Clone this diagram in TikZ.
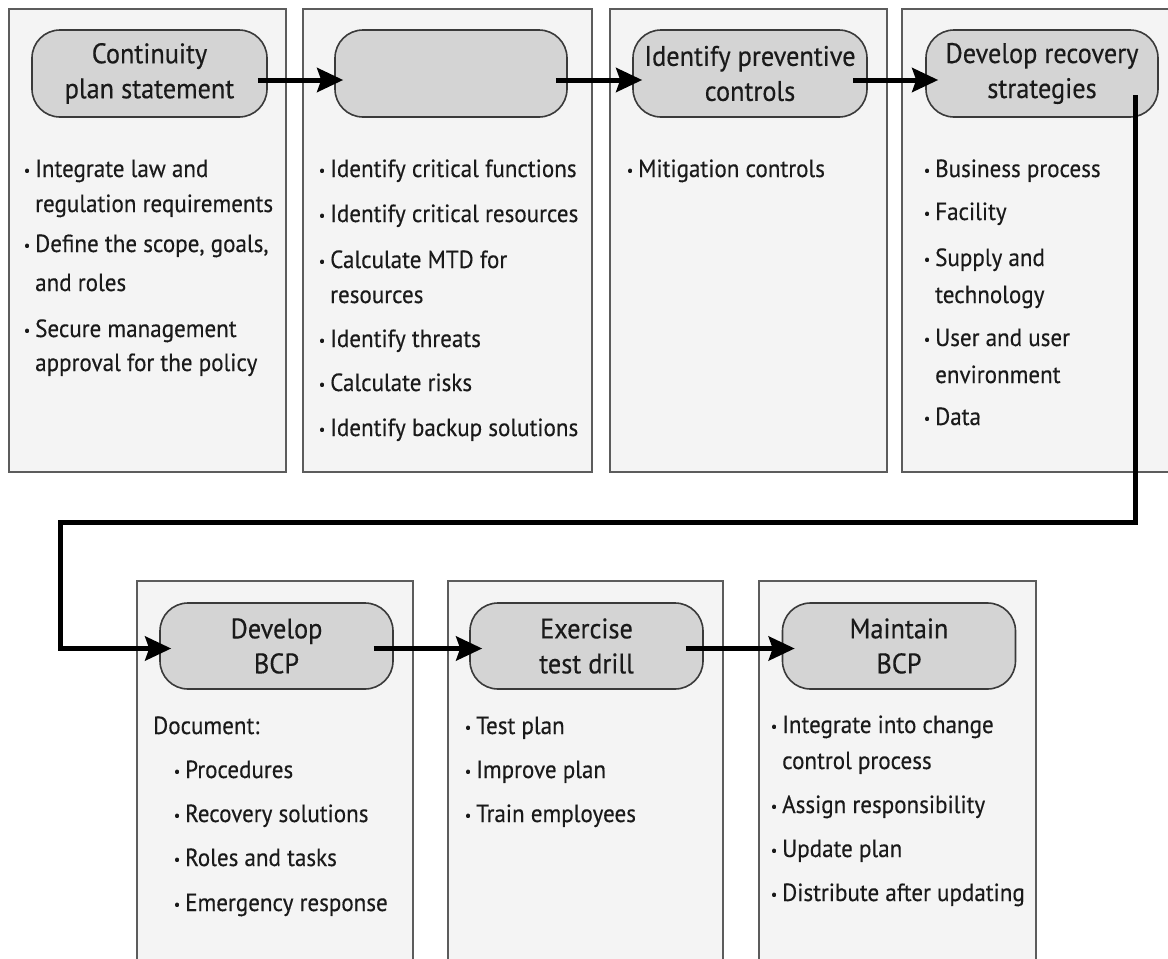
\documentclass[tikz,border=0pt]{standalone}
\usepackage{fontspec}
\setmainfont{PT Sans}
\newfontfamily\labelfont{PT Sans}[FakeBold=0.35, FakeStretch=0.93]
\usetikzlibrary{arrows.meta,calc}

\definecolor{panelfill}{HTML}{F4F4F4}
\definecolor{panelline}{HTML}{5C5C5C}
\definecolor{stepfill}{HTML}{D4D4D4}
\definecolor{stepline}{HTML}{3A3A3A}
\definecolor{ink}{HTML}{1A1A1A}

% small bullet hanging to the left of an item's first line
\newcommand{\bul}{\llap{\raisebox{1.5pt}{\fontsize{15}{15}\selectfont\textbullet}\hspace{5pt}}}

\tikzset{
  panel/.style={draw=panelline, fill=panelfill, line width=1.4pt, inner sep=0pt},
  stepbox/.style={draw=stepline, fill=stepfill, line width=1.6pt, rounded corners=28pt,
    minimum width=233pt, minimum height=87pt, align=center, inner sep=0pt,
    text=ink, font=\labelfont\fontsize{28.3}{35}\selectfont},
  bodytext/.style={anchor=base west, inner sep=0pt, text=ink,
    font=\labelfont\fontsize{24.8}{28}\selectfont},
  flow/.style={line width=5pt, black, line join=miter,
    -{Stealth[length=26pt, width=24pt, inset=4pt]}}
}

\begin{document}
\begin{tikzpicture}[x=1pt, y=-1pt]
\useasboundingbox (0,0) rectangle (1168,959);
\fill[white] (0,0) rectangle (1168,959);
\clip (0,0) rectangle (1168,959);

% ---- panels ----
\node[panel, minimum width=277pt, minimum height=463pt] (p1) at (147.5,240.5) {};
\node[panel, minimum width=289pt, minimum height=463pt] (p2) at (447.5,240.5) {};
\node[panel, minimum width=277pt, minimum height=463pt] (p3) at (748.5,240.5) {};
\node[panel, minimum width=290pt, minimum height=463pt] (p4) at (1047,240.5) {};
\node[panel, minimum width=276pt, minimum height=440pt] (p5) at (275,801) {};
\node[panel, minimum width=275pt, minimum height=440pt] (p6) at (585.5,801) {};
\node[panel, minimum width=277pt, minimum height=440pt] (p7) at (897.5,801) {};

% ---- process steps ----
\node[stepbox, minimum width=235pt] (s1) at (149.5,73.5) {Continuity\\plan statement};
\node[stepbox, minimum width=232pt] (s2) at (451,73.5) {};
\node[stepbox, minimum width=234pt] (s3) at (750,73.5) {Identify preventive\\controls};
\node[stepbox, minimum width=232pt] (s4) at (1042,73.5) {Develop recovery\\strategies};
\node[stepbox, minimum height=86pt] (s5) at (276.5,646) {Develop\\BCP};
\node[stepbox, minimum height=86pt] (s6) at (586.5,646) {Exercise\\test drill};
\node[stepbox, minimum height=86pt] (s7) at (899,646) {Maintain\\BCP};

% ---- connectors ----
\draw[flow] ($(s1.east)+(-10,6.5)$) -- ($(s2.west)+(9,6.5)$);
\draw[flow] ($(s2.east)+(-12,6.5)$) -- ($(s3.west)+(10,6.5)$);
\draw[flow] ($(s3.east)+(-15,6.5)$) -- ($(s4.west)+(13,6.5)$);
\coordinate (turnA) at (1135,522);
\coordinate (turnB) at (60,522);
\coordinate (drop) at ($(s4.east)+(-23,21.5)$);
\draw[flow] (drop) -- (drop |- turnA) -- (turnB) |- ($(s5.west)+(12,2.5)$);
\draw[flow] ($(s5.east)+(-20,2.5)$) -- ($(s6.west)+(13,2.5)$);
\draw[flow] ($(s6.east)+(-18,2.5)$) -- ($(s7.west)+(13,2.5)$);

% ---- panel 1 ----
\node[bodytext] (a1) at (35,177) {\bul Integrate law and};
\node[bodytext] (a2) at (35,212) {regulation requirements};
\node[bodytext] (a3) at (35,252) {\bul Define the scope, goals,};
\node[bodytext] (a4) at (35,291) {and roles};
\node[bodytext] (a5) at (35,337) {\bul Secure management};
\node[bodytext] (a6) at (35,371) {approval for the policy};

% ---- panel 2 ----
\node[bodytext] (b1) at (330,177) {\bul Identify critical functions};
\node[bodytext] (b2) at (330,222) {\bul Identify critical resources};
\node[bodytext] (b3) at (330,268) {\bul Calculate MTD for};
\node[bodytext] (b4) at (330,303) {resources};
\node[bodytext] (b5) at (330,347) {\bul Identify threats};
\node[bodytext] (b6) at (330,391) {\bul Calculate risks};
\node[bodytext] (b7) at (330,436) {\bul Identify backup solutions};

% ---- panel 3 ----
\node[bodytext] (c1) at (638,177) {\bul Mitigation controls};

% ---- panel 4 ----
\node[bodytext] (d1) at (935,177) {\bul Business process};
\node[bodytext] (d2) at (935,220) {\bul Facility};
\node[bodytext] (d3) at (935,266) {\bul Supply and};
\node[bodytext] (d4) at (935,303) {technology};
\node[bodytext] (d5) at (935,346) {\bul User and user};
\node[bodytext] (d6) at (935,383) {environment};
\node[bodytext] (d7) at (935,425) {\bul Data};

% ---- panel 5 ----
\node[bodytext] (e0) at (153,734) {Document:};
\node[bodytext] (e1) at (185,778) {\bul Procedures};
\node[bodytext] (e2) at (185,822) {\bul Recovery solutions};
\node[bodytext] (e3) at (185,866) {\bul Roles and tasks};
\node[bodytext] (e4) at (185,911) {\bul Emergency response};

% ---- panel 6 ----
\node[bodytext] (f1) at (476,734) {\bul Test plan};
\node[bodytext] (f2) at (476,778) {\bul Improve plan};
\node[bodytext] (f3) at (476,822) {\bul Train employees};

% ---- panel 7 ----
\node[bodytext] (g1) at (782,733) {\bul Integrate into change};
\node[bodytext] (g2) at (782,769) {control process};
\node[bodytext] (g3) at (782,813) {\bul Assign responsibility};
\node[bodytext] (g4) at (782,857) {\bul Update plan};
\node[bodytext] (g5) at (782,901) {\bul Distribute after updating};
\end{tikzpicture}
\end{document}
